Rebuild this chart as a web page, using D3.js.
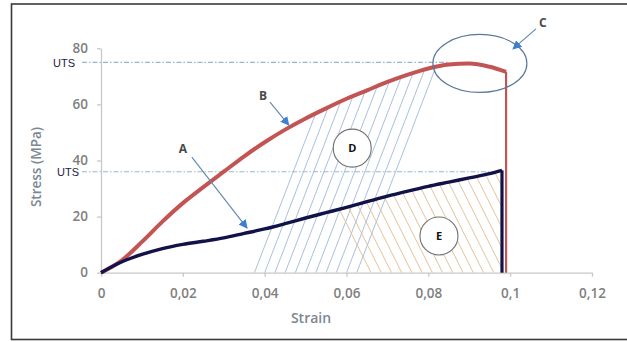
<!DOCTYPE html>
<html lang="en">
<head>
<meta charset="utf-8">
<title>Stress strain</title>
<script src="https://cdn.jsdelivr.net/npm/d3@7"></script>
<style>
  body { margin: 0; background: white; }
  svg { display: block; font-family: "Open Sans", sans-serif; }
</style>
</head>
<body>
<svg id="chart" width="627" height="342"></svg>
<script>
// curve A (dark) and curve B (red): strain, stress (MPa)
var strainA = [0, 0.005, 0.01, 0.015, 0.02, 0.025, 0.03, 0.035, 0.04, 0.045, 0.05,
               0.055, 0.06, 0.065, 0.07, 0.075, 0.08, 0.085, 0.09, 0.095, 0.098];
var stressA = [0, 3.8, 6.5, 8.6, 10.1, 11.2, 12.4, 14.0, 15.6, 17.5, 19.5,
               21.4, 23.3, 25.3, 27.3, 29.1, 30.8, 32.3, 33.8, 35.3, 36.5];
var strainB = [0, 0.005, 0.01, 0.015, 0.02, 0.025, 0.03, 0.035, 0.04, 0.045, 0.05,
               0.055, 0.06, 0.065, 0.07, 0.075, 0.08, 0.085, 0.09, 0.095, 0.099];
var stressB = [0, 4.3, 11, 18.2, 24.8, 30.5, 36, 41.5, 46.5, 51, 55,
               58.6, 62, 65, 68, 70.6, 72.8, 74.2, 74.6, 73.4, 71.6];
var utsLevels = [75, 36];
var utsEnds = [0.085, 0.097];
var xTicks = [0, 0.02, 0.04, 0.06, 0.08, 0.1, 0.12];
var yTicks = [0, 20, 40, 60, 80];

var svg = d3.select("#chart");
var x = d3.scaleLinear().domain([0, 0.12]).range([101, 592]);
var y = d3.scaleLinear().domain([0, 80]).range([272.7, 48.3]);

var dataA = strainA.map(function(s, i) { return [s, stressA[i]]; });
var dataB = strainB.map(function(s, i) { return [s, stressB[i]]; });

var line = d3.line().x(function(d) { return x(d[0]); }).y(function(d) { return y(d[1]); })
    .curve(d3.curveMonotoneX);
var area = d3.area().x(function(d) { return x(d[0]); }).y0(y(0)).y1(function(d) { return y(d[1]); })
    .curve(d3.curveMonotoneX);

var defs = svg.append("defs");
defs.append("clipPath").attr("id", "underB").append("path").attr("d", area(dataB));
defs.append("clipPath").attr("id", "underA").append("path").attr("d", area(dataA));
defs.append("marker").attr("id", "head")
    .attr("viewBox", "0 0 10 10").attr("refX", 9).attr("refY", 5)
    .attr("markerWidth", 9).attr("markerHeight", 9).attr("markerUnits", "userSpaceOnUse")
    .attr("orient", "auto")
  .append("path").attr("d", "M0,0L10,5L0,10z").attr("fill", "#3f7fcf");

// outer frame (right side is cut off in the original)
svg.append("rect").attr("x", 11.5).attr("y", 4).attr("width", 700).attr("height", 335.5)
    .attr("fill", "none").attr("stroke", "#3a3a3a").attr("stroke-width", 1.6);

// axes
var yAxis = d3.axisLeft(y).tickValues(yTicks).tickSize(4).tickSizeOuter(0).tickPadding(9);
var xAxis = d3.axisBottom(x).tickValues(xTicks).tickSize(4).tickSizeOuter(0).tickPadding(12)
    .tickFormat(function(d) { return String(d).replace(".", ","); });

var gy = svg.append("g").attr("transform", "translate(" + x(0) + ",0)").call(yAxis);
var gx = svg.append("g").attr("transform", "translate(0," + y(0) + ")").call(xAxis);
[gx, gy].forEach(function(g) {
  g.select(".domain").attr("stroke", "#c8c8c8").attr("stroke-width", 1.3);
  g.selectAll(".tick line").attr("stroke", "#c8c8c8").attr("stroke-width", 1.3);
  g.selectAll(".tick text").attr("fill", "#808080").style("font-size", "13.5px")
    .style("font-weight", "600").style("font-family", "'Open Sans', sans-serif");
});
// y tick labels sit a little high in the original
gy.selectAll(".tick text").attr("dy", "0.28em");

svg.append("text").attr("transform", "translate(41,167) rotate(-90)")
    .attr("text-anchor", "middle").attr("fill", "#7b8794")
    .style("font-size", "13.5px").style("font-weight", "600").text("Stress (MPa)");
svg.append("text").attr("x", 311).attr("y", 323).attr("text-anchor", "middle")
    .attr("fill", "#7b8794").style("font-size", "14px").style("font-weight", "600").text("Strain");

// UTS dash-dot lines
utsLevels.forEach(function(v, i) {
  svg.append("line").attr("x1", 82).attr("x2", x(utsEnds[i]))
      .attr("y1", y(v)).attr("y2", y(v))
      .attr("stroke", "#9db7cc").attr("stroke-width", 1.1).attr("stroke-dasharray", "5,2,1.5,2");
  svg.append("text").attr("x", i === 0 ? 53 : 57).attr("y", y(v) + 4.5)
      .attr("fill", "#1c1c3c").style("font-size", "11px")
      .style("font-family", "'Liberation Sans', sans-serif").text("UTS");
});

// hatch D (blue, rising) under curve B
var hatchD = d3.range(0.0375, 0.0626, 0.0025);
svg.append("g").attr("clip-path", "url(#underB)").selectAll("line")
    .data(hatchD).enter().append("line")
    .attr("x1", function(d) { return x(d); }).attr("y1", y(0))
    .attr("x2", function(d) { return x(d) + 100; }).attr("y2", y(0) - 260)
    .attr("stroke", "#9fb9d9").attr("stroke-width", 0.9);

// hatch E (orange, falling) under curve A
var hatchE = d3.range(0.066, 0.1115, 0.0025);
svg.append("g").attr("clip-path", "url(#underA)").selectAll("line")
    .data(hatchE).enter().append("line")
    .attr("x1", function(d) { return x(d); }).attr("y1", y(0))
    .attr("x2", function(d) { return x(d) - 150; }).attr("y2", y(0) - 300)
    .attr("stroke", "#e2bb92").attr("stroke-width", 0.9);

// curves
svg.append("path").attr("d", line(dataB)).attr("fill", "none")
    .attr("stroke", "#c35454").attr("stroke-width", 4);
svg.append("line").attr("x1", x(0.099)).attr("x2", x(0.099))
    .attr("y1", y(stressB[stressB.length - 1])).attr("y2", y(0))
    .attr("stroke", "#c35454").attr("stroke-width", 2.2);
svg.append("path").attr("d", line(dataA)).attr("fill", "none")
    .attr("stroke", "#12124a").attr("stroke-width", 3.4);
svg.append("line").attr("x1", x(0.098)).attr("x2", x(0.098))
    .attr("y1", y(stressA[stressA.length - 1])).attr("y2", y(0))
    .attr("stroke", "#12124a").attr("stroke-width", 3.2);

// ellipse C around peak
svg.append("ellipse").attr("cx", x(0.0926)).attr("cy", y(74.6)).attr("rx", 47).attr("ry", 29)
    .attr("fill", "none").attr("stroke", "#5a7896").attr("stroke-width", 1.2);

// circled labels D, E
[["D", 0.0614, 44.4], ["E", 0.0826, 13.1]].forEach(function(c) {
  svg.append("circle").attr("cx", x(c[1])).attr("cy", y(c[2])).attr("r", 19)
      .attr("fill", "white").attr("stroke", "#707070").attr("stroke-width", 1.1);
  svg.append("text").attr("x", x(c[1])).attr("y", y(c[2]) + 4).attr("text-anchor", "middle")
      .attr("fill", "#111").style("font-size", "11px").style("font-weight", "700").text(c[0]);
});

// arrow callouts
[["A", 0.0200, 44.2, 0.0222, 41.2, 0.0357, 15.9],
 ["B", 0.0396, 63.0, 0.0413, 60.8, 0.0459, 52.6],
 ["C", 0.1080, 89.0, 0.1063, 86.9, 0.1007, 79.8]].forEach(function(a) {
  svg.append("line").attr("x1", x(a[3])).attr("y1", y(a[4])).attr("x2", x(a[5])).attr("y2", y(a[6]))
      .attr("stroke", "#5f84ad").attr("stroke-width", 1.1).attr("marker-end", "url(#head)");
  svg.append("text").attr("x", x(a[1])).attr("y", y(a[2]) + 4).attr("text-anchor", "middle")
      .attr("fill", "#4a4a4a").style("font-size", "12px").style("font-weight", "700").text(a[0]);
});
</script>
</body>
</html>
